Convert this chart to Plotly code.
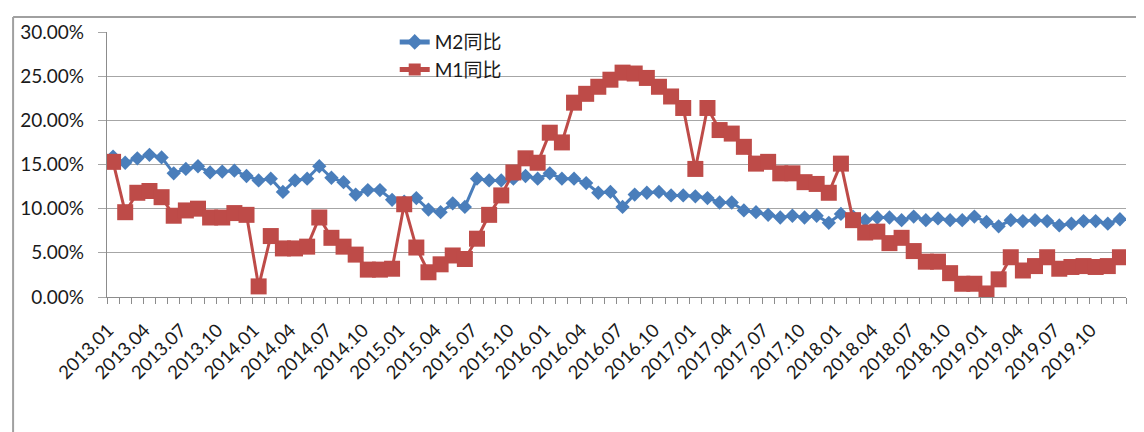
import plotly.graph_objects as go

months = [f"{y}.{m:02d}" for y in range(2013, 2020) for m in range(1, 13)]

m2_yoy = [15.9, 15.2, 15.7, 16.1, 15.8, 14.0, 14.5, 14.8, 14.1, 14.2, 14.3, 13.7,
          13.2, 13.4, 11.9, 13.2, 13.4, 14.8, 13.5, 13.0, 11.6, 12.1, 12.1, 11.0,
          10.8, 11.2, 9.9, 9.6, 10.6, 10.2, 13.4, 13.2, 13.2, 13.4, 13.7, 13.4,
          14.0, 13.4, 13.4, 12.9, 11.8, 11.9, 10.2, 11.6, 11.8, 11.9, 11.5, 11.5,
          11.4, 11.2, 10.7, 10.7, 9.8, 9.6, 9.3, 9.0, 9.2, 9.0, 9.2, 8.4,
          9.4, 9.1, 8.7, 9.0, 9.0, 8.7, 9.1, 8.7, 8.9, 8.7, 8.7, 9.1,
          8.5, 8.0, 8.7, 8.6, 8.7, 8.6, 8.1, 8.3, 8.6, 8.6, 8.3, 8.8]

m1_yoy = [15.3, 9.6, 11.8, 12.0, 11.3, 9.2, 9.8, 10.0, 9.0, 9.0, 9.5, 9.3,
          1.2, 6.9, 5.5, 5.5, 5.7, 9.0, 6.7, 5.7, 4.8, 3.1, 3.1, 3.2,
          10.5, 5.6, 2.8, 3.7, 4.7, 4.3, 6.6, 9.3, 11.5, 14.1, 15.7, 15.2,
          18.6, 17.5, 22.0, 23.0, 23.8, 24.6, 25.4, 25.3, 24.8, 23.8, 22.7, 21.4,
          14.5, 21.4, 18.9, 18.5, 17.0, 15.1, 15.3, 14.0, 14.0, 13.0, 12.8, 11.8,
          15.1, 8.7, 7.3, 7.4, 6.1, 6.7, 5.2, 4.0, 4.0, 2.7, 1.5, 1.5,
          0.4, 2.0, 4.5, 3.0, 3.5, 4.5, 3.2, 3.4, 3.5, 3.4, 3.5, 4.5]

idx = list(range(len(months)))
label_idx = idx[::3]
label_text = [months[i] for i in label_idx]
boundaries = [i - 0.5 for i in range(len(months) + 1)]

FONT = "Lato, 'Noto Sans CJK SC', sans-serif"
GRID = "#a6a6a6"
AX = "#8c8c8c"

# figure is placed at an 8px offset in the page (body margin)
W, H = 1136, 424
L, R, T, B = 98, 18, 22, 135
PW, PH = W - L - R, H - T - B


def px(xf):
    return (xf - L) / PW


def py(yf):
    return (T + PH - yf) / PH


fig = go.Figure()
fig.add_trace(go.Scatter(
    x=idx, y=[v / 100 for v in m2_yoy], name="M2同比", mode="lines+markers",
    line=dict(color="#4a7ebb", width=3),
    marker=dict(symbol="diamond", size=11, color="#4a7ebb"),
))
fig.add_trace(go.Scatter(
    x=idx, y=[v / 100 for v in m1_yoy], name="M1同比", mode="lines+markers",
    line=dict(color="#be4b48", width=3),
    marker=dict(symbol="square", size=16, color="#be4b48"),
))
# helper trace so the boundary tick-mark axis is drawn
fig.add_trace(go.Scatter(x=[boundaries[0]], y=[None], xaxis="x2", showlegend=False,
                         hoverinfo="skip", mode="markers"))

rng = [-0.5, len(months) - 0.5]
fig.update_layout(
    width=W, height=H,
    margin=dict(l=L, r=R, t=T, b=B),
    paper_bgcolor="white", plot_bgcolor="white",
    font=dict(family=FONT, color="#1a1a1a"),
    showlegend=True,
    legend=dict(x=px(386), y=py(13), xanchor="left", yanchor="top",
                bgcolor="rgba(0,0,0,0)", font=dict(size=19, color="#1a1a1a"),
                tracegroupgap=0, itemsizing="constant"),
    xaxis=dict(range=rng, tickmode="array",
               tickvals=[i - 0.4 for i in label_idx], ticktext=label_text,
               tickangle=-45, tickfont=dict(size=18.5, color="#1a1a1a"),
               ticklabelstandoff=14,
               showgrid=False, zeroline=False, ticks="",
               showline=True, linecolor=AX, linewidth=1.3),
    xaxis2=dict(range=rng, overlaying="x", anchor="y", side="bottom",
                tickmode="array", tickvals=boundaries, showticklabels=False,
                ticks="outside", ticklen=6, tickcolor=AX, tickwidth=1.2,
                showgrid=False, zeroline=False, showline=False),
    yaxis=dict(range=[0, 0.30], dtick=0.05, tickformat=".2%",
               tickfont=dict(size=19, color="#1a1a1a"),
               showgrid=True, gridcolor=GRID, gridwidth=1.3, zeroline=False,
               ticks="outside", ticklen=8, tickcolor=GRID, tickwidth=1.3,
               ticklabelstandoff=10,
               showline=True, linecolor=AX, linewidth=1.3),
    shapes=[
        dict(type="line", xref="paper", yref="paper",
             x0=px(4), x1=px(4), y0=py(7), y1=py(440),
             line=dict(color="#a0a0a0", width=2)),
        dict(type="line", xref="paper", yref="paper",
             x0=px(4), x1=px(1150), y0=py(7), y1=py(7),
             line=dict(color="#a0a0a0", width=2)),
    ],
)

fig.write_html("out.html")
